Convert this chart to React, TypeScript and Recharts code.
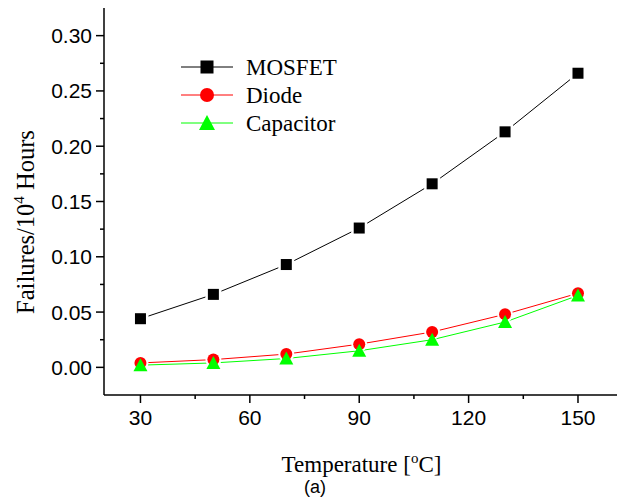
import React from "react";
import { LineChart, Line, XAxis, YAxis } from "recharts";

const temperatures = [30, 50, 70, 90, 110, 130, 150];
const mosfet = [0.044, 0.066, 0.093, 0.126, 0.166, 0.213, 0.266];
const diode = [0.004, 0.007, 0.012, 0.021, 0.032, 0.048, 0.067];
const capacitor = [0.002, 0.004, 0.008, 0.015, 0.025, 0.041, 0.065];

const xMajorTicks = [30, 60, 90, 120, 150];
const xMinorTicks = [45, 75, 105, 135];
const yMajorTicks = [0, 0.05, 0.1, 0.15, 0.2, 0.25, 0.3];
const yMinorTicks = [0.025, 0.075, 0.125, 0.175, 0.225, 0.275];

const legendItems = [
  { name: "MOSFET", color: "#000000", shape: "square" },
  { name: "Diode", color: "#ff0000", shape: "circle" },
  { name: "Capacitor", color: "#00ff00", shape: "triangle" },
];

const data = temperatures.map((t, i) => ({
  t,
  mosfet: mosfet[i],
  diode: diode[i],
  capacitor: capacitor[i],
}));

const SANS = "'Liberation Sans', Arial, sans-serif";
const SERIF = "'Liberation Serif', 'Times New Roman', serif";

const isMajor = (list: number[], v: number) =>
  list.some((m) => Math.abs(m - v) < 1e-9);

const XTick = (props: any) => {
  const { x, y, payload } = props;
  const v = payload.value;
  if (!isMajor(xMajorTicks, v)) {
    return <line x1={x} x2={x} y1={y} y2={y + 4} stroke="#000" strokeWidth={1.5} />;
  }
  return (
    <g>
      <line x1={x} x2={x} y1={y} y2={y + 8} stroke="#000" strokeWidth={1.5} />
      <text x={x} y={y + 30} textAnchor="middle" fontFamily={SANS} fontSize={21} fill="#000">
        {v}
      </text>
    </g>
  );
};

const YTick = (props: any) => {
  const { x, y, payload } = props;
  const v = payload.value;
  if (!isMajor(yMajorTicks, v)) {
    return <line x1={x - 4} x2={x} y1={y} y2={y} stroke="#000" strokeWidth={1.5} />;
  }
  return (
    <g>
      <line x1={x - 8} x2={x} y1={y} y2={y} stroke="#000" strokeWidth={1.5} />
      <text x={x - 12} y={y} dy="0.36em" textAnchor="end" fontFamily={SANS} fontSize={21} fill="#000">
        {v.toFixed(2)}
      </text>
    </g>
  );
};

const SquareDot = (props: any) => {
  const { cx, cy, index } = props;
  return (
    <rect
      key={`sq-${index}`}
      x={cx - 5.5}
      y={cy - 5.5}
      width={11}
      height={11}
      fill="#000"
      stroke="#fff"
      strokeWidth={5}
      paintOrder="stroke"
    />
  );
};

const CircleDot = (props: any) => {
  const { cx, cy, index } = props;
  return (
    <circle
      key={`ci-${index}`}
      cx={cx}
      cy={cy}
      r={6}
      fill="#ff0000"
      stroke="#fff"
      strokeWidth={4}
      paintOrder="stroke"
    />
  );
};

const TriangleDot = (props: any) => {
  const { cx, cy, index } = props;
  return (
    <path
      key={`tr-${index}`}
      d={`M${cx},${cy - 7} L${cx + 7},${cy + 6} L${cx - 7},${cy + 6} Z`}
      fill="#00ff00"
    />
  );
};

const Marker = ({ shape, color, x, y }: { shape: string; color: string; x: number; y: number }) => {
  if (shape === "square") return <rect x={x - 6.5} y={y - 6.5} width={13} height={13} fill={color} />;
  if (shape === "circle") return <circle cx={x} cy={y} r={7} fill={color} />;
  return <path d={`M${x},${y - 8} L${x + 8},${y + 7} L${x - 8},${y + 7} Z`} fill={color} />;
};

const XLabel = (props: any) => {
  const vb = props.viewBox;
  return (
    <g>
      <text x={vb.x + vb.width / 2 + 1} y={vb.y + 77} textAnchor="middle" fontFamily={SERIF} fontSize={23} fill="#000">
        Temperature [<tspan fontSize={15} dy={-9}>o</tspan>
        <tspan dy={9}>C]</tspan>
      </text>
      <text x={315} y={vb.y + 98} textAnchor="middle" fontFamily={SANS} fontSize={18} fill="#000">
        (a)
      </text>
    </g>
  );
};

const YLabel = (props: any) => {
  const vb = props.viewBox;
  const x = vb.x + 34;
  const y = 222;
  return (
    <text
      x={x}
      y={y}
      transform={`rotate(-90, ${x}, ${y})`}
      textAnchor="middle"
      fontFamily={SERIF}
      fontSize={24.5}
      fill="#000"
    >
      Failures/10<tspan fontSize={15} dy={-10}>4</tspan>
      <tspan dy={10}> Hours</tspan>
    </text>
  );
};

export default function App() {
  return (
    <div style={{ position: "absolute", left: 0, top: 0, width: 617, height: 501, background: "#fff" }}>
      <LineChart width={617} height={501} data={data} margin={{ top: 8, right: 0, bottom: 0, left: 0 }}>
        <XAxis
          dataKey="t"
          type="number"
          domain={[20, 160.7]}
          allowDataOverflow
          ticks={[...xMajorTicks, ...xMinorTicks].sort((a, b) => a - b)}
          interval={0}
          tick={XTick}
          tickLine={false}
          tickSize={0}
          tickMargin={0}
          axisLine={{ stroke: "#000", strokeWidth: 1.5 }}
          height={106}
          label={{ content: XLabel }}
        />
        <YAxis
          type="number"
          domain={[-0.025, 0.325]}
          allowDataOverflow
          ticks={[...yMajorTicks, ...yMinorTicks].sort((a, b) => a - b)}
          interval={0}
          tick={YTick}
          tickLine={false}
          tickSize={0}
          tickMargin={0}
          axisLine={{ stroke: "#000", strokeWidth: 1.5 }}
          width={104}
          label={{ content: YLabel }}
        />
        <Line
          dataKey="mosfet"
          name="MOSFET"
          type="linear"
          stroke="#000"
          strokeWidth={1}
          dot={SquareDot}
          activeDot={false}
          isAnimationActive={false}
        />
        <Line
          dataKey="diode"
          name="Diode"
          type="linear"
          stroke="#ff0000"
          strokeWidth={1}
          dot={CircleDot}
          activeDot={false}
          isAnimationActive={false}
        />
        <Line
          dataKey="capacitor"
          name="Capacitor"
          type="linear"
          stroke="#00ff00"
          strokeWidth={1}
          dot={TriangleDot}
          activeDot={false}
          isAnimationActive={false}
        />
      </LineChart>
      <svg
        width={220}
        height={100}
        style={{ position: "absolute", left: 170, top: 45 }}
      >
        {legendItems.map((item, i) => {
          const cy = 22 + i * 28;
          return (
            <g key={item.name}>
              <line x1={11} x2={63} y1={cy} y2={cy} stroke={item.color} strokeWidth={1} />
              <Marker shape={item.shape} color={item.color} x={37} y={cy} />
              <text x={76} y={cy} dy="0.34em" fontFamily={SERIF} fontSize={23} fill="#000">
                {item.name}
              </text>
            </g>
          );
        })}
      </svg>
    </div>
  );
}
